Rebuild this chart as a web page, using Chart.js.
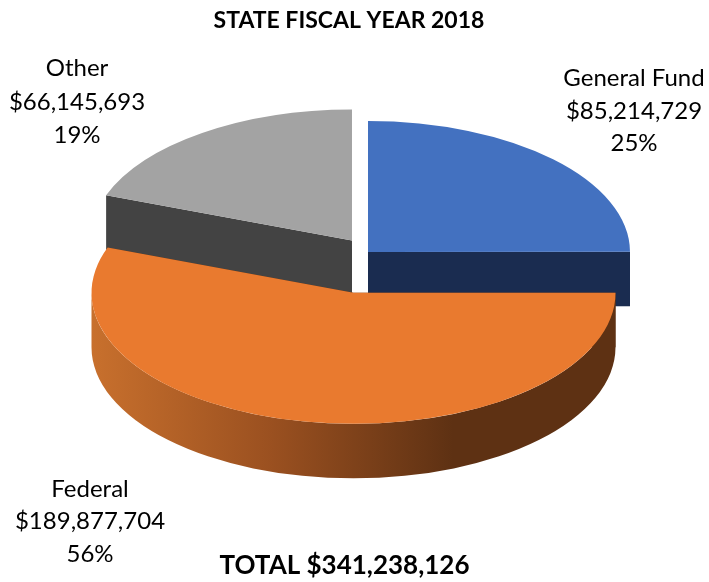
<!DOCTYPE html>
<html>
<head>
<meta charset="utf-8">
<title>State Fiscal Year 2018</title>
<script src="https://cdn.jsdelivr.net/npm/chart.js@4"></script>
<style>
  html, body { margin: 0; padding: 0; background: #fff; }
  canvas { display: block; }
</style>
</head>
<body>
<canvas id="fundChart" width="709" height="582"></canvas>
<script>
const categories = ['General Fund', 'Federal', 'Other'];
const amounts = [85214729, 189877704, 66145693];
const topColors = ['#4371c0', '#e97a2f', '#a3a3a3'];
const wallColors = ['#1a2c50', '#5e3113', '#434343'];

const chartTitle = 'STATE FISCAL YEAR 2018';

// how far each slice is pulled out, measured before tilting
const explode = [0, 83, 28];
// label anchors: x centre and y of each of the three lines
const labelX = [634, 90, 77];
const labelY = [[78, 111, 143], [489, 521, 554], [68, 102, 135]];

const tilt = 0.5;
const depth = 54.5;

const money = v => '$' + v.toLocaleString('en-US');
const total = amounts.reduce((a, b) => a + b, 0);

function federalShade(ctx, left, right) {
    const g = ctx.createLinearGradient(left, 0, right, 0);
    g.addColorStop(0, '#c8702d');
    g.addColorStop(0.5, '#9a5020');
    g.addColorStop(1, '#5e3113');
    return g;
}

const pie3d = {
    id: 'pie3d',
    beforeDatasetDraw(chart, args) {
        const ctx = chart.ctx;
        const arcs = chart.getDatasetMeta(args.index).data;

        // back slices first so the big front slice sits on top
        [2, 0, 1].forEach(i => {
            const arc = arcs[i];
            const start = arc.startAngle, end = arc.endAngle;
            const r = arc.outerRadius;
            const mid = (start + end) / 2;
            const ox = Math.cos(mid) * explode[i];
            const oy = Math.sin(mid) * explode[i];
            const cx = arc.x + ox;
            const cy = arc.y + oy * tilt;
            const pt = a => [cx + Math.cos(a) * r, cy + Math.sin(a) * r * tilt];

            // cut faces
            ctx.fillStyle = wallColors[i];
            [start, end].forEach(a => {
                const p = pt(a);
                ctx.beginPath();
                ctx.moveTo(cx, cy);
                ctx.lineTo(p[0], p[1]);
                ctx.lineTo(p[0], p[1] + depth);
                ctx.lineTo(cx, cy + depth);
                ctx.closePath();
                ctx.fill();
            });

            // rim, only the part that faces the viewer
            const a0 = Math.max(start, 0), a1 = Math.min(end, Math.PI);
            if (a1 > a0) {
                ctx.fillStyle = i === 1 ? federalShade(ctx, cx - r, cx + r * 0.38) : wallColors[i];
                ctx.beginPath();
                ctx.ellipse(cx, cy, r, r * tilt, 0, a0, a1);
                ctx.ellipse(cx, cy + depth, r, r * tilt, 0, a1, a0, true);
                ctx.closePath();
                ctx.fill();
            }

            // top face is the library's own arc, squashed
            ctx.save();
            ctx.translate(0, arc.y);
            ctx.scale(1, tilt);
            ctx.translate(0, -arc.y);
            ctx.translate(ox, oy);
            arc.draw(ctx);
            ctx.restore();
        });
        return false;
    },
    afterDraw(chart) {
        const ctx = chart.ctx;
        ctx.save();
        ctx.textAlign = 'center';
        ctx.textBaseline = 'middle';
        ctx.fillStyle = '#000';

        ctx.font = 'bold 23px Lato';
        ctx.fillText(chartTitle, 349, 21);
        ctx.font = 'bold 26px Lato';
        ctx.fillText('TOTAL ' + money(total), 344.5, 566);

        ctx.font = '24px Lato';
        categories.forEach((name, i) => {
            const pct = Math.round(amounts[i] / total * 100) + '%';
            [name, money(amounts[i]), pct].forEach((line, k) => {
                ctx.fillText(line, labelX[i], labelY[i][k]);
            });
        });
        ctx.restore();
    }
};

new Chart(document.getElementById('fundChart').getContext('2d'), {
    type: 'pie',
    data: {
        labels: categories,
        datasets: [{
            data: amounts,
            backgroundColor: topColors,
            borderWidth: 0
        }]
    },
    options: {
        responsive: false,
        animation: false,
        radius: 262,
        layout: { padding: { left: 27, bottom: 78 } },
        plugins: { legend: { display: false }, tooltip: { enabled: false } }
    },
    plugins: [pie3d]
});
</script>
</body>
</html>
